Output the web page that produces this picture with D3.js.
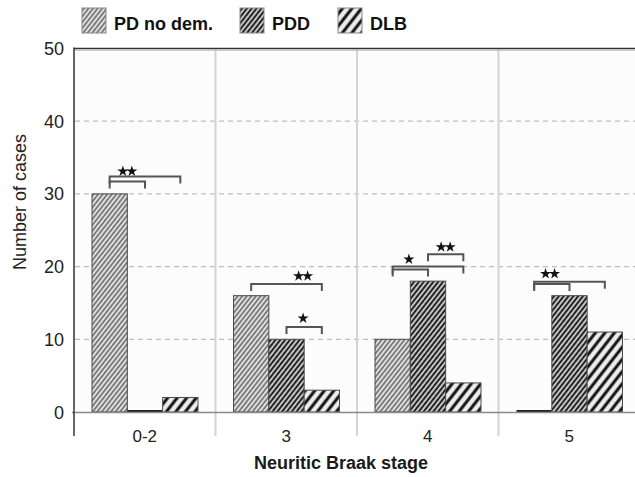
<!DOCTYPE html>
<html lang="en">
<head>
<meta charset="UTF-8">
<title>Neuritic Braak stage</title>
<script src="https://d3js.org/d3.v7.min.js"></script>
<style>
  body { margin: 0; background: #fff; }
  text { font-family: "Liberation Sans", Arial, sans-serif; }
</style>
</head>
<body>
<svg></svg>
<script>
  // data
  const stages = ['0-2', '3', '4', '5']
  const series = ['PD no dem.', 'PDD', 'DLB']
  const pdNoDem = [30, 16, 10, 0]
  const pdd = [0, 10, 18, 16]
  const dlb = [2, 3, 4, 11]
  const yTicks = [0, 10, 20, 30, 40, 50]

  // significance brackets: stage, series index from/to, height in cases
  const brackets = [
    { stage: '0-2', from: 0, to: 2, level: 32.4 },
    { stage: '0-2', from: 0, to: 1, level: 31.7 },
    { stage: '3', from: 0, to: 2, level: 17.6 },
    { stage: '3', from: 1, to: 2, level: 11.7 },
    { stage: '4', from: 0, to: 2, level: 20.0 },
    { stage: '4', from: 0, to: 1, level: 19.6 },
    { stage: '4', from: 1, to: 2, level: 21.7 },
    { stage: '5', from: 0, to: 2, level: 17.9 },
    { stage: '5', from: 0, to: 1, level: 17.6 }
  ]
  // stars: stage, position in series index units, height, count
  const stars = [
    { stage: '0-2', at: 0.5, level: 33.1, count: 2 },
    { stage: '3', at: 1.47, level: 18.7, count: 2 },
    { stage: '3', at: 1.47, level: 12.9, count: 1 },
    { stage: '4', at: 0.46, level: 21.0, count: 1 },
    { stage: '4', at: 1.5, level: 22.7, count: 2 },
    { stage: '5', at: 0.45, level: 19.0, count: 2 }
  ]

  const values = [pdNoDem, pdd, dlb]
  const rows = stages.map((s, i) => ({ stage: s, vals: series.map((k, j) => ({ key: k, idx: j, v: values[j][i] })) }))

  const width = 635
  const height = 477
  const svg = d3.select('svg').attr('width', width).attr('height', height)

  // hatch patterns
  const defs = svg.append('defs')
  const hatches = [
    { id: 'h0', bg: '#e0e0e0', fg: '#3a3a3a', gap: 3.6, sw: 1.1 },
    { id: 'h1', bg: '#c4c4c4', fg: '#1a1a1a', gap: 3.8, sw: 1.8 },
    { id: 'h2', bg: '#ececec', fg: '#111', gap: 7.5, sw: 3 }
  ]
  hatches.forEach(h => {
    const p = defs.append('pattern')
      .attr('id', h.id)
      .attr('patternUnits', 'userSpaceOnUse')
      .attr('width', h.gap)
      .attr('height', 10)
      .attr('patternTransform', 'rotate(38)')
    p.append('rect').attr('width', h.gap).attr('height', 10).attr('fill', h.bg)
    p.append('line')
      .attr('x1', h.gap / 2).attr('x2', h.gap / 2)
      .attr('y1', 0).attr('y2', 10)
      .attr('stroke', h.fg).attr('stroke-width', h.sw)
  })

  const x0 = d3.scaleBand().domain(stages).range([74, 640])
  const x1 = d3.scaleBand().domain(d3.range(series.length)).range([18, 124])
  const y = d3.scaleLinear().domain([0, 50]).range([412, 48.5])
  const barCenter = (stage, i) => x0(stage) + x1(Math.floor(i)) + x1.bandwidth() * (0.5 + i - Math.floor(i))

  // plot background
  svg.append('rect').attr('x', 74).attr('y', y(50)).attr('width', 566).attr('height', y(0) - y(50)).attr('fill', '#fcfcfc')

  // dashed grid
  svg.append('g').selectAll('line')
    .data(yTicks.filter(t => t > 0 && t < 50))
    .join('line')
    .attr('x1', 75).attr('x2', 640)
    .attr('y1', d => y(d)).attr('y2', d => y(d))
    .attr('stroke', '#bdbdbd').attr('stroke-width', 1.2).attr('stroke-dasharray', '5,4')

  // stage separators
  svg.append('g').selectAll('line')
    .data(stages.slice(1))
    .join('line')
    .attr('x1', d => x0(d)).attr('x2', d => x0(d))
    .attr('y1', y(50)).attr('y2', 436)
    .attr('stroke', '#d4d4d4').attr('stroke-width', 2)

  // top frame line
  svg.append('line').attr('x1', 74).attr('x2', 640).attr('y1', y(50)).attr('y2', y(50))
    .attr('stroke', '#333').attr('stroke-width', 1.6)
  svg.append('line').attr('x1', 74).attr('x2', 640).attr('y1', y(50) + 1.6).attr('y2', y(50) + 1.6)
    .attr('stroke', '#bbb').attr('stroke-width', 1.2)

  // bars
  const groups = svg.append('g').selectAll('g')
    .data(rows)
    .join('g')
    .attr('transform', d => `translate(${x0(d.stage)},0)`)
  groups.selectAll('rect')
    .data(d => d.vals)
    .join('rect')
    .attr('x', d => x1(d.idx))
    .attr('width', x1.bandwidth())
    .attr('y', d => d.v > 0 ? y(d.v) : y(0) - 2)
    .attr('height', d => d.v > 0 ? y(0) - y(d.v) : 2)
    .attr('fill', d => d.v > 0 ? `url(#h${d.idx})` : '#222')
    .attr('stroke', d => d.v > 0 ? '#4a4a4a' : 'none').attr('stroke-width', 1)

  // zero line and y axis line
  svg.append('line').attr('x1', 72).attr('x2', 640).attr('y1', y(0) + 0.5).attr('y2', y(0) + 0.5)
    .attr('stroke', '#8a8a8a').attr('stroke-width', 1.5)
  svg.append('line').attr('x1', 74).attr('x2', 74).attr('y1', y(50) - 1).attr('y2', 436)
    .attr('stroke', '#333').attr('stroke-width', 1.5)

  // y tick labels
  svg.append('g').selectAll('text')
    .data(yTicks)
    .join('text')
    .attr('x', 64).attr('y', d => y(d) + 6.5)
    .attr('text-anchor', 'end')
    .attr('font-size', 18).attr('fill', '#222')
    .text(d => d)

  // x tick labels
  svg.append('g').selectAll('text')
    .data(stages)
    .join('text')
    .attr('x', d => x0(d) + x0.bandwidth() / 2).attr('y', 442)
    .attr('text-anchor', 'middle')
    .attr('font-size', 17).attr('fill', '#222')
    .text(d => d)

  // axis titles
  svg.append('text')
    .attr('x', 341).attr('y', 469)
    .attr('text-anchor', 'middle')
    .attr('font-size', 18).attr('font-weight', 'bold').attr('fill', '#1a1a1a')
    .text('Neuritic Braak stage')
  svg.append('text')
    .attr('transform', 'translate(26,202) rotate(-90)')
    .attr('text-anchor', 'middle')
    .attr('font-size', 18).attr('fill', '#222')
    .text('Number of cases')

  // significance brackets
  const leg = 7
  svg.append('g').selectAll('path')
    .data(brackets)
    .join('path')
    .attr('d', d => {
      const xa = barCenter(d.stage, d.from)
      const xb = barCenter(d.stage, d.to)
      const yy = y(d.level)
      return `M${xa},${yy + leg}V${yy}H${xb}V${yy + leg}`
    })
    .attr('fill', 'none').attr('stroke', '#555').attr('stroke-width', 2)

  const star = d3.symbol(d3.symbolStar).size(38)
  stars.forEach(s => {
    const cx = barCenter(s.stage, s.at)
    for (let k = 0; k < s.count; k++) {
      const off = (k - (s.count - 1) / 2) * 9
      svg.append('path')
        .attr('d', star)
        .attr('transform', `translate(${cx + off},${y(s.level)})`)
        .attr('fill', '#111')
    }
  })

  // legend
  const legendX = [82, 240, 338]
  const legend = svg.append('g').selectAll('g')
    .data(series)
    .join('g')
    .attr('transform', (d, i) => `translate(${legendX[i]},8)`)
  legend.append('rect')
    .attr('width', 24).attr('height', 25)
    .attr('fill', (d, i) => `url(#h${i})`)
    .attr('stroke', '#888').attr('stroke-width', 1)
  legend.append('text')
    .attr('x', 32).attr('y', 22)
    .attr('font-size', 18).attr('font-weight', 'bold').attr('fill', '#111')
    .text(d => d)
</script>
</body>
</html>
